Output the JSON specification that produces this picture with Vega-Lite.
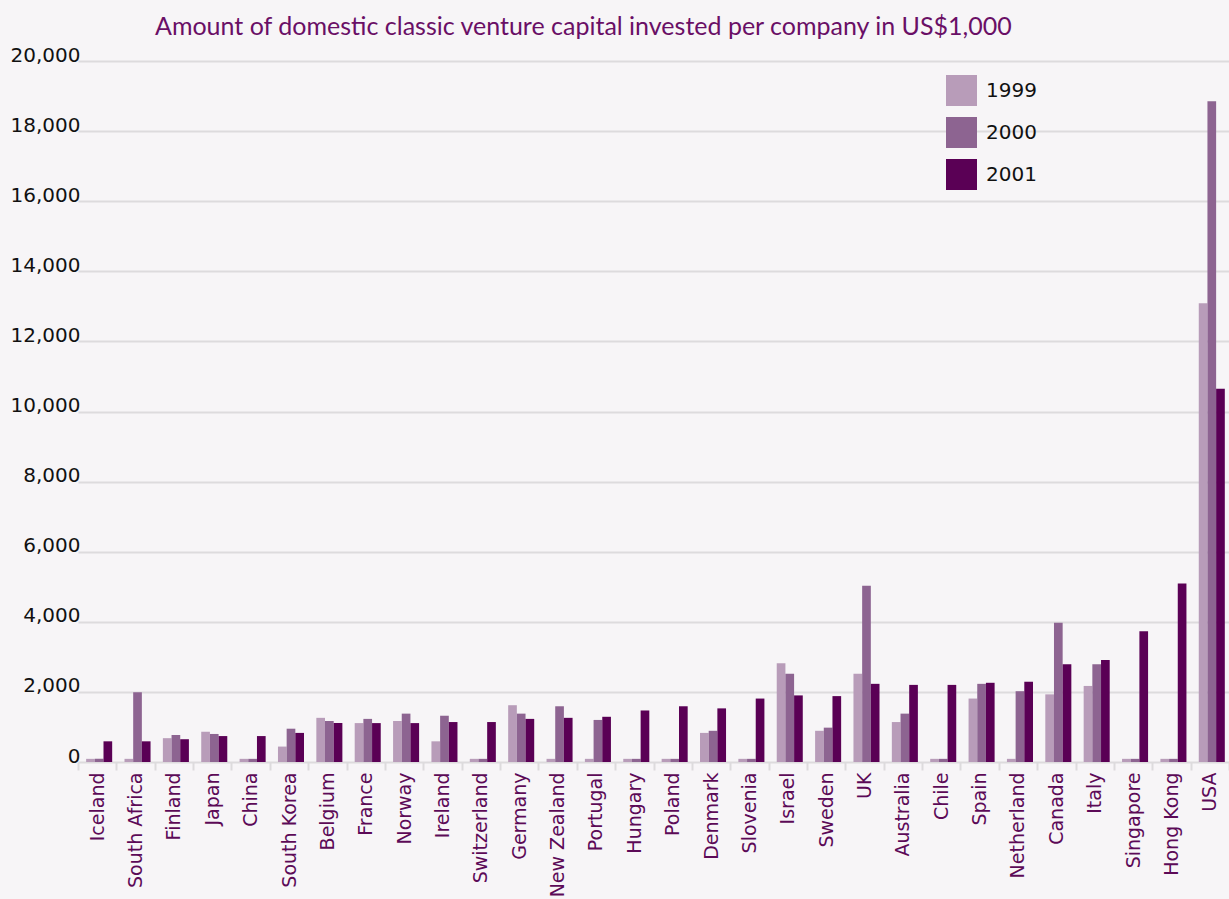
{
  "$schema": "https://vega.github.io/schema/vega-lite/v6.json",
  "autosize": {"type": "none"},
  "padding": {"left": 78, "top": 61, "right": 0, "bottom": 137},
  "width": 1151,
  "height": 701,
  "background": "#f7f5f7",
  "title": {
    "text": "Amount of domestic classic venture capital invested per company in US$1,000",
    "anchor": "start",
    "frame": "group",
    "dx": 77,
    "offset": -15,
    "baseline": "alphabetic",
    "font": "Lato",
    "fontSize": 25,
    "fontWeight": "normal",
    "color": "#6a0f66"
  },
  "config": {
    "view": {"stroke": null},
    "axis": {"labelFont": "DejaVu Sans", "titleFont": "DejaVu Sans"},
    "legend": {"labelFont": "DejaVu Sans"}
  },
  "data": {
    "values": [
      {"country": "Iceland", "year": "1999", "value": 90},
      {"country": "Iceland", "year": "2000", "value": 90},
      {"country": "Iceland", "year": "2001", "value": 590},
      {"country": "South Africa", "year": "1999", "value": 90},
      {"country": "South Africa", "year": "2000", "value": 1990},
      {"country": "South Africa", "year": "2001", "value": 590},
      {"country": "Finland", "year": "1999", "value": 680},
      {"country": "Finland", "year": "2000", "value": 770},
      {"country": "Finland", "year": "2001", "value": 650},
      {"country": "Japan", "year": "1999", "value": 860},
      {"country": "Japan", "year": "2000", "value": 800},
      {"country": "Japan", "year": "2001", "value": 740},
      {"country": "China", "year": "1999", "value": 90},
      {"country": "China", "year": "2000", "value": 90},
      {"country": "China", "year": "2001", "value": 740},
      {"country": "South Korea", "year": "1999", "value": 440},
      {"country": "South Korea", "year": "2000", "value": 950},
      {"country": "South Korea", "year": "2001", "value": 830},
      {"country": "Belgium", "year": "1999", "value": 1260},
      {"country": "Belgium", "year": "2000", "value": 1170},
      {"country": "Belgium", "year": "2001", "value": 1110},
      {"country": "France", "year": "1999", "value": 1110},
      {"country": "France", "year": "2000", "value": 1230},
      {"country": "France", "year": "2001", "value": 1110},
      {"country": "Norway", "year": "1999", "value": 1170},
      {"country": "Norway", "year": "2000", "value": 1380},
      {"country": "Norway", "year": "2001", "value": 1110},
      {"country": "Ireland", "year": "1999", "value": 590},
      {"country": "Ireland", "year": "2000", "value": 1320},
      {"country": "Ireland", "year": "2001", "value": 1140},
      {"country": "Switzerland", "year": "1999", "value": 90},
      {"country": "Switzerland", "year": "2000", "value": 90},
      {"country": "Switzerland", "year": "2001", "value": 1140},
      {"country": "Germany", "year": "1999", "value": 1620},
      {"country": "Germany", "year": "2000", "value": 1380},
      {"country": "Germany", "year": "2001", "value": 1230},
      {"country": "New Zealand", "year": "1999", "value": 90},
      {"country": "New Zealand", "year": "2000", "value": 1590},
      {"country": "New Zealand", "year": "2001", "value": 1260},
      {"country": "Portugal", "year": "1999", "value": 90},
      {"country": "Portugal", "year": "2000", "value": 1200},
      {"country": "Portugal", "year": "2001", "value": 1290},
      {"country": "Hungary", "year": "1999", "value": 90},
      {"country": "Hungary", "year": "2000", "value": 90},
      {"country": "Hungary", "year": "2001", "value": 1470},
      {"country": "Poland", "year": "1999", "value": 90},
      {"country": "Poland", "year": "2000", "value": 90},
      {"country": "Poland", "year": "2001", "value": 1590},
      {"country": "Denmark", "year": "1999", "value": 830},
      {"country": "Denmark", "year": "2000", "value": 890},
      {"country": "Denmark", "year": "2001", "value": 1530},
      {"country": "Slovenia", "year": "1999", "value": 90},
      {"country": "Slovenia", "year": "2000", "value": 90},
      {"country": "Slovenia", "year": "2001", "value": 1810},
      {"country": "Israel", "year": "1999", "value": 2820},
      {"country": "Israel", "year": "2000", "value": 2520},
      {"country": "Israel", "year": "2001", "value": 1900},
      {"country": "Sweden", "year": "1999", "value": 890},
      {"country": "Sweden", "year": "2000", "value": 980},
      {"country": "Sweden", "year": "2001", "value": 1880},
      {"country": "UK", "year": "1999", "value": 2520},
      {"country": "UK", "year": "2000", "value": 5030},
      {"country": "UK", "year": "2001", "value": 2230},
      {"country": "Australia", "year": "1999", "value": 1140},
      {"country": "Australia", "year": "2000", "value": 1380},
      {"country": "Australia", "year": "2001", "value": 2200},
      {"country": "Chile", "year": "1999", "value": 90},
      {"country": "Chile", "year": "2000", "value": 90},
      {"country": "Chile", "year": "2001", "value": 2200},
      {"country": "Spain", "year": "1999", "value": 1810},
      {"country": "Spain", "year": "2000", "value": 2230},
      {"country": "Spain", "year": "2001", "value": 2260},
      {"country": "Netherland", "year": "1999", "value": 90},
      {"country": "Netherland", "year": "2000", "value": 2020},
      {"country": "Netherland", "year": "2001", "value": 2290},
      {"country": "Canada", "year": "1999", "value": 1930},
      {"country": "Canada", "year": "2000", "value": 3970},
      {"country": "Canada", "year": "2001", "value": 2790},
      {"country": "Italy", "year": "1999", "value": 2170},
      {"country": "Italy", "year": "2000", "value": 2790},
      {"country": "Italy", "year": "2001", "value": 2910},
      {"country": "Singapore", "year": "1999", "value": 90},
      {"country": "Singapore", "year": "2000", "value": 90},
      {"country": "Singapore", "year": "2001", "value": 3730},
      {"country": "Hong Kong", "year": "1999", "value": 90},
      {"country": "Hong Kong", "year": "2000", "value": 90},
      {"country": "Hong Kong", "year": "2001", "value": 5090},
      {"country": "USA", "year": "1999", "value": 13090},
      {"country": "USA", "year": "2000", "value": 18850},
      {"country": "USA", "year": "2001", "value": 10650}
    ]
  },
  "mark": {"type": "bar"},
  "encoding": {
    "x": {
      "field": "country",
      "type": "nominal",
      "sort": null,
      "scale": {"paddingInner": 0, "paddingOuter": 0},
      "axis": {
        "title": null,
        "labelAngle": -90,
        "labelFontSize": 19,
        "labelColor": "#5c0a57",
        "labelPadding": 2,
        "tickBand": "extent",
        "tickSize": 8,
        "tickWidth": 2,
        "tickColor": "#dddbdd",
        "domain": false
      }
    },
    "xOffset": {
      "field": "year",
      "type": "nominal",
      "scale": {"paddingInner": 0, "paddingOuter": 0.71, "align": 0.66}
    },
    "y": {
      "field": "value",
      "type": "quantitative",
      "scale": {"domain": [0, 20000], "nice": false},
      "axis": {
        "title": null,
        "values": [0, 2000, 4000, 6000, 8000, 10000, 12000, 14000, 16000, 18000, 20000],
        "format": ",.0f",
        "labelFontSize": 20,
        "labelColor": "#111111",
        "labelAlign": "right",
        "labelBaseline": "alphabetic",
        "labelPadding": -2,
        "ticks": false,
        "domain": false,
        "grid": true,
        "gridColor": "#dddbdd",
        "gridWidth": 2
      }
    },
    "color": {
      "field": "year",
      "type": "nominal",
      "scale": {"domain": ["1999", "2000", "2001"], "range": ["#b89cb9", "#8d6491", "#5a0055"]},
      "legend": {
        "title": null,
        "orient": "none",
        "legendX": 868,
        "legendY": 14,
        "symbolType": "square",
        "symbolSize": 961,
        "symbolStrokeWidth": 0,
        "labelFontSize": 20,
        "labelColor": "#111111",
        "labelOffset": 9,
        "rowPadding": 11,
        "padding": 0
      }
    }
  }
}
